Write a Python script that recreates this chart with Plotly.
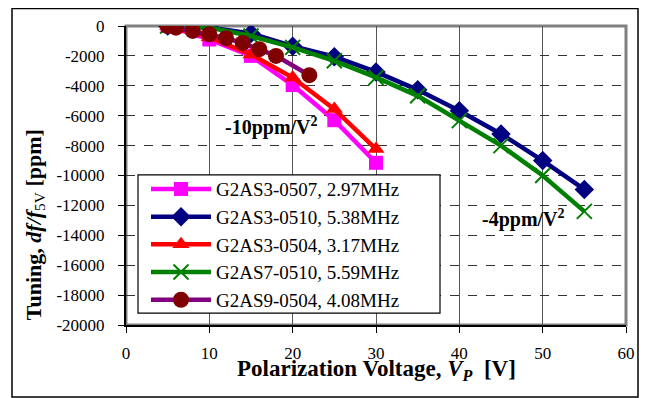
import plotly.graph_objects as go

# ---- data ----
x_0507 = [5, 10, 15, 20, 25, 30]
y_0507 = [0, -900, -2000, -3950, -6300, -9150]

x_0510 = [5, 10, 15, 20, 25, 30, 35, 40, 45, 50, 55]
y_0510 = [0, -100, -500, -1350, -2050, -3070, -4270, -5670, -7220, -9000, -10930]

x_0504 = [5, 10, 15, 20, 25, 30]
y_0504 = [0, -750, -1900, -3450, -5560, -8230]

x_7_0510 = [5, 10, 15, 20, 25, 30, 35, 40, 45, 50, 55]
y_7_0510 = [0, -100, -670, -1430, -2330, -3440, -4670, -6330, -8000, -10000, -12400]

x_9_0504 = [5, 6, 8, 10, 12, 14, 16, 18, 22]
y_9_0504 = [0, -110, -330, -550, -820, -1130, -1550, -2000, -3290]

names = ["G2AS3-0507, 2.97MHz", "G2AS3-0510, 5.38MHz", "G2AS3-0504, 3.17MHz",
         "G2AS7-0510, 5.59MHz", "G2AS9-0504, 4.08MHz"]

x_ticks = [0, 10, 20, 30, 40, 50, 60]
y_ticks = [0, -2000, -4000, -6000, -8000, -10000, -12000, -14000, -16000, -18000, -20000]

FONT = "Liberation Serif, serif"

fig = go.Figure()
fig.add_trace(go.Scatter(x=x_0507, y=y_0507, name=names[0], mode="lines+markers",
                         line=dict(color="#FF00FF", width=4.5),
                         marker=dict(symbol="square", size=14, color="#FF00FF")))
fig.add_trace(go.Scatter(x=x_0510, y=y_0510, name=names[1], mode="lines+markers",
                         line=dict(color="#000080", width=4.5),
                         marker=dict(symbol="diamond", size=15, color="#000080")))
fig.add_trace(go.Scatter(x=x_0504, y=y_0504, name=names[2], mode="lines+markers",
                         line=dict(color="#FF0000", width=4.5),
                         marker=dict(symbol="triangle-up", size=15, color="#FF0000")))
fig.add_trace(go.Scatter(x=x_7_0510, y=y_7_0510, name=names[3], mode="lines+markers",
                         line=dict(color="#008000", width=4.5),
                         marker=dict(symbol="x-thin-open", size=15, color="#008000",
                                     line=dict(color="#008000", width=2))))
fig.add_trace(go.Scatter(x=x_9_0504, y=y_9_0504, name=names[4], mode="lines+markers",
                         line=dict(color="#800080", width=4.5),
                         marker=dict(symbol="circle", size=16, color="#800000")))

fig.update_xaxes(range=[0, 60], tickvals=x_ticks, ticktext=[str(v) for v in x_ticks],
                 showgrid=True, gridcolor="#555555", gridwidth=1,
                 showline=True, linecolor="black", linewidth=2,
                 ticks="outside", ticklen=6, tickcolor="black", ticklabelstandoff=6,
                 zeroline=False, automargin=False,
                 tickfont=dict(family=FONT, size=17, color="black"))
fig.update_yaxes(range=[-20000, 0], tickvals=y_ticks, ticktext=[str(v) for v in y_ticks],
                 showgrid=True, gridcolor="#333333", gridwidth=1, griddash="dash",
                 showline=True, linecolor="black", linewidth=2,
                 ticks="outside", ticklen=6, tickcolor="black", ticklabelstandoff=10,
                 zeroline=False, automargin=False,
                 tickfont=dict(family=FONT, size=17, color="black"))

# plot-area border (grey, top/right)
fig.add_shape(type="rect", xref="paper", yref="paper", x0=0, x1=1, y0=0, y1=1,
              line=dict(color="#808080", width=3), layer="below")
# legend box
fig.add_shape(type="rect", xref="paper", yref="paper", x0=0.024, x1=0.628, y0=0.040, y1=0.502,
              line=dict(color="black", width=1.2), fillcolor="white", layer="above")
# outer frame
fig.add_shape(type="rect", xref="paper", yref="paper", x0=-0.228, x1=1.024, y0=-0.2408, y1=1.0585,
              line=dict(color="black", width=1.5))

# axis titles
fig.add_annotation(xref="paper", yref="paper", x=0.5, y=-0.152, xanchor="center", yanchor="middle",
                   text="<b>Polarization Voltage, <i>V</i><sub><i>P</i></sub>  [V]</b>",
                   showarrow=False, font=dict(family=FONT, size=23, color="black"))
fig.add_annotation(xref="paper", yref="paper", x=-0.182, y=0.334, xanchor="center", yanchor="middle",
                   text="<b>Tuning, <i>df/f</i></b><sub>5V</sub><b> [ppm]</b>", textangle=-90,
                   showarrow=False, font=dict(family=FONT, size=22, color="black"))

fig.add_annotation(x=17.5, y=-6690, text="<b>-10ppm/V<sup>2</sup></b>", showarrow=False,
                   font=dict(family=FONT, size=20, color="black"))
fig.add_annotation(x=47.7, y=-12900, text="<b>-4ppm/V<sup>2</sup></b>", showarrow=False,
                   font=dict(family=FONT, size=20, color="black"))

fig.update_layout(
    width=643, height=390,
    margin=dict(l=118, r=25, t=18, b=73),
    plot_bgcolor="white", paper_bgcolor="white",
    font=dict(family=FONT, color="black"),
    legend=dict(x=0.04, y=0.518, xanchor="left", yanchor="top",
                bgcolor="rgba(0,0,0,0)", borderwidth=0,
                font=dict(family=FONT, size=19, color="black"),
                itemwidth=60, tracegroupgap=0),
)

fig.write_html("out.html")
